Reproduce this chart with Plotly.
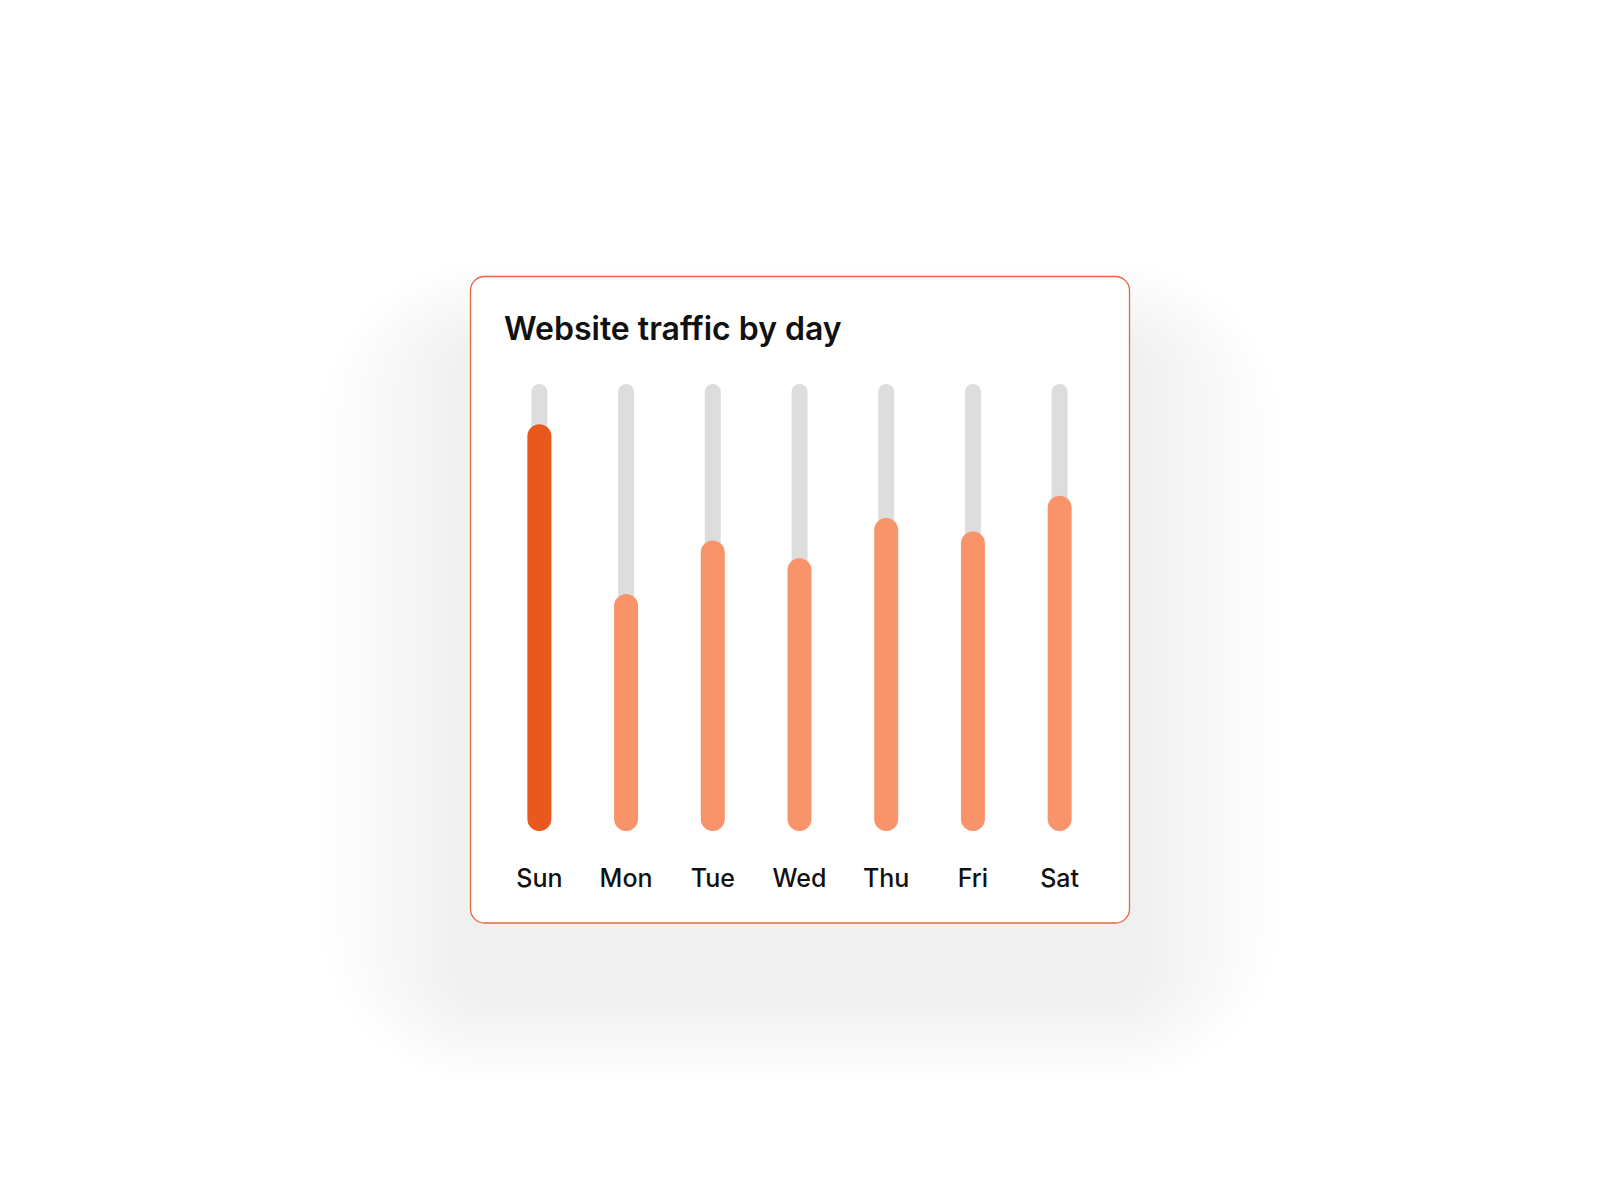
import plotly.graph_objects as go

# data
days = ["Sun", "Mon", "Tue", "Wed", "Thu", "Fri", "Sat"]
traffic = [91, 53, 65, 61, 70, 67, 75]   # share of the daily maximum, %
track_max = 100
highlight = "Sun"

W, H = 1600, 1200
OFF = 8  # default body margin of the html page
L, R, T, B = 496 - OFF, W - 1103 + OFF, 384 - OFF, H - 831 + OFF
plot_w = W - L - R
plot_h = H - T - B
unit_px = plot_w / len(days)

fill_w = 24 / unit_px
track_w = 16 / unit_px
lift = 0.01  # tiny base so plotly rounds both ends

hot = "#E9581D"
soft = "#F9946A"
track_col = "#DDDDDD"


def px(x, y):
    # screen pixel -> paper coords
    x, y = x - OFF, y - OFF
    return (x - L) / plot_w, (H - B - y) / plot_h


def rounded_path(x0, y0, x1, y1, r):
    k = 0.5523 * r
    pts = [
        ("M", [(x0 + r, y0)]),
        ("L", [(x1 - r, y0)]),
        ("C", [(x1 - r + k, y0), (x1, y0 + r - k), (x1, y0 + r)]),
        ("L", [(x1, y1 - r)]),
        ("C", [(x1, y1 - r + k), (x1 - r + k, y1), (x1 - r, y1)]),
        ("L", [(x0 + r, y1)]),
        ("C", [(x0 + r - k, y1), (x0, y1 - r + k), (x0, y1 - r)]),
        ("L", [(x0, y0 + r)]),
        ("C", [(x0, y0 + r - k), (x0 + r - k, y0), (x0 + r, y0)]),
    ]
    s = ""
    for cmd, ps in pts:
        s += cmd + " " + " ".join("%.5f,%.5f" % px(a, b) for a, b in ps) + " "
    return s + "Z"


fig = go.Figure()

# grey tracks
fig.add_trace(go.Bar(x=days, y=[track_max - lift] * len(days), base=[lift] * len(days),
                     width=track_w, hoverinfo="skip", showlegend=False,
                     marker=dict(color=track_col, line=dict(width=0), cornerradius=8)))

# orange fills
fill_cols = [hot if d == highlight else soft for d in days]
fig.add_trace(go.Bar(x=days, y=[v - lift for v in traffic], base=[lift] * len(days),
                     width=fill_w, hoverinfo="skip", showlegend=False,
                     marker=dict(color=fill_cols, line=dict(width=0), cornerradius=12)))

# card + soft shadow (pushed down, wider than tall)
cx0, cy0, cx1, cy1 = 470.5, 276.5, 1129.5, 923.0
shapes = []
for i in range(15, 0, -1):
    ey = i * 6
    ex = i * 10
    shapes.append(dict(type="path", xref="paper", yref="paper", layer="below",
                       path=rounded_path(cx0 - ex, cy0 - ey + 75, cx1 + ex, cy1 + ey + 70, 14 + ex),
                       fillcolor="rgba(0,0,0,0.0042)", line=dict(width=0)))
shapes.append(dict(type="path", xref="paper", yref="paper", layer="below",
                   path=rounded_path(cx0, cy0, cx1, cy1, 14),
                   fillcolor="white", line=dict(color="#E2683E", width=1.3)))

tx, ty = px(502, 329)
fig.update_layout(
    width=W, height=H,
    margin=dict(l=L, r=R, t=T, b=B),
    paper_bgcolor="white",
    plot_bgcolor="rgba(0,0,0,0)",
    barmode="overlay",
    shapes=shapes,
    annotations=[dict(text="Website traffic by day", xref="paper", yref="paper",
                      x=tx, y=ty, xanchor="left", yanchor="middle", showarrow=False,
                      font=dict(family="Inter", size=32, color="#111111", weight=600))],
    xaxis=dict(range=[-0.5, len(days) - 0.5], showgrid=False, zeroline=False,
               showline=False, ticks="", ticklabelstandoff=30,
               tickfont=dict(family="Inter", size=25, color="#111111", weight=500)),
    yaxis=dict(range=[0, track_max], visible=False, showgrid=False, zeroline=False),
)

fig.write_html("out.html")
